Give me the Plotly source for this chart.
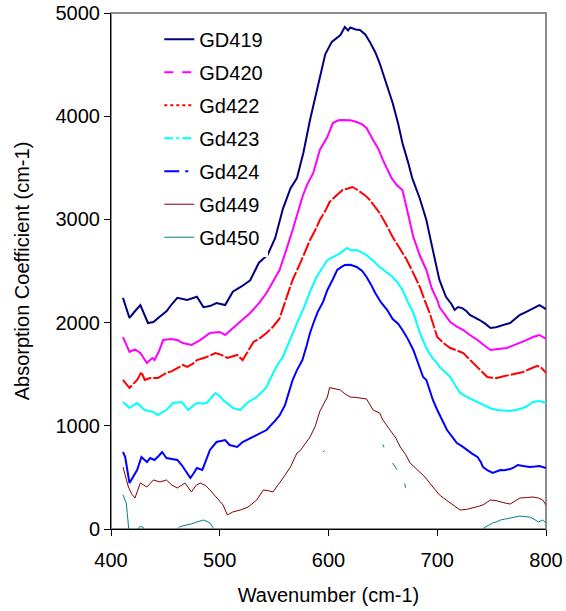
import plotly.graph_objects as go

# wavenumber / absorption readings per sample
gd419_x = [411, 417, 422, 427, 434, 439, 445, 451, 456, 461, 470, 479, 485, 491, 497, 505, 512, 520, 528,
           536, 544, 551, 558, 565, 571, 577, 583, 588, 592, 597, 603, 608, 611, 615, 618, 620, 625, 629,
           634, 638, 643, 647, 653, 659, 664, 668, 673, 677, 684, 690, 696, 702, 708, 713, 716, 719, 723,
           727, 730, 735, 739, 744, 749, 754, 758, 763, 767, 772, 776, 781, 785, 790, 794, 797, 800]
gd419_y = [2240, 2045, 2110, 2170, 1996, 2006, 2060, 2110, 2180, 2240, 2220, 2250, 2150, 2160, 2190, 2170,
           2300, 2350, 2410, 2580, 2655, 2820, 3100, 3300, 3400, 3650, 3963, 4200, 4380, 4600, 4720, 4760,
           4787, 4864, 4830, 4860, 4840, 4835, 4790, 4720, 4620, 4515, 4330, 4128, 3930, 3740, 3560, 3400,
           3200, 2994, 2700, 2413, 2250, 2180, 2122, 2150, 2140, 2110, 2074, 2050, 2025, 1990, 1948, 1955,
           1967, 1980, 1996, 2040, 2074, 2100, 2122, 2150, 2170, 2150, 2130]

gd420_x = [411, 417, 422, 427, 433, 438, 440, 444, 448, 455, 461, 466, 474, 482, 491, 500, 505, 512, 520,
           528, 537, 543, 549, 555, 561, 567, 576, 580, 586, 592, 599, 604, 609, 613, 620, 626, 631, 635,
           641, 646, 650, 658, 663, 668, 673, 678, 684, 690, 695, 700, 702, 707, 712, 718, 724, 730, 737,
           743, 749, 756, 764, 770, 776, 782, 788, 794, 800]
gd420_y = [1860, 1715, 1740, 1705, 1608, 1657, 1637, 1720, 1831, 1840, 1831, 1802, 1783, 1831, 1899, 1909,
           1880, 1948, 2020, 2093, 2200, 2287, 2400, 2510, 2700, 2897, 3217, 3330, 3450, 3673, 3800, 3934,
           3960, 3963, 3960, 3944, 3920, 3886, 3770, 3680, 3576, 3400, 3330, 3285, 3060, 2830, 2650, 2510,
           2330, 2219, 2151, 2080, 2006, 1960, 1928, 1880, 1831, 1780, 1735, 1745, 1754, 1780, 1802, 1830,
           1860, 1880, 1841]

gd422_x = [411, 417, 420, 424, 428, 431, 436, 443, 451, 456, 461, 466, 470, 475, 479, 484, 488, 496, 501,
           507, 512, 516, 521, 526, 531, 537, 543, 549, 555, 561, 567, 575, 583, 588, 592, 597, 601, 607,
           613, 618, 622, 626, 629, 634, 638, 643, 647, 653, 659, 666, 672, 678, 684, 689, 693, 697, 700,
           706, 712, 718, 724, 729, 733, 740, 746, 750, 755, 761, 767, 773, 779, 785, 792, 796, 800]
gd422_y = [1444, 1366, 1400, 1444, 1521, 1444, 1463, 1463, 1512, 1530, 1560, 1590, 1570, 1600, 1637, 1650,
           1667, 1705, 1690, 1657, 1670, 1686, 1637, 1720, 1812, 1850, 1899, 1960, 2040, 2230, 2413, 2600,
           2800, 2900, 2994, 3080, 3169, 3230, 3285, 3300, 3314, 3290, 3266, 3230, 3188, 3120, 3062, 2950,
           2830, 2710, 2607, 2480, 2345, 2200, 2093, 1960, 1860, 1800, 1754, 1730, 1705, 1650, 1608, 1540,
           1473, 1465, 1463, 1480, 1492, 1505, 1521, 1550, 1580, 1560, 1512]

gd423_x = [411, 417, 424, 431, 439, 443, 447, 451, 457, 465, 468, 471, 475, 479, 484, 488, 492, 496, 500,
           503, 508, 512, 516, 519, 525, 530, 534, 540, 543, 549, 553, 558, 562, 567, 572, 577, 583, 589,
           594, 599, 605, 611, 617, 621, 626, 631, 635, 641, 647, 653, 659, 664, 668, 673, 678, 684, 690,
           696, 700, 702, 707, 712, 716, 721, 727, 733, 740, 746, 750, 755, 761, 767, 773, 779, 784, 788,
           794, 800]
gd423_y = [1231, 1173, 1221, 1153, 1134, 1105, 1130, 1153, 1221, 1231, 1190, 1153, 1190, 1221, 1215, 1221,
           1270, 1318, 1290, 1250, 1210, 1173, 1160, 1153, 1221, 1250, 1279, 1340, 1376, 1512, 1590, 1667,
           1770, 1899, 2020, 2136, 2300, 2442, 2530, 2607, 2640, 2674, 2723, 2700, 2704, 2680, 2655, 2600,
           2539, 2490, 2442, 2380, 2316, 2200, 2093, 1900, 1750, 1650, 1608, 1570, 1520, 1473, 1400, 1318,
           1280, 1250, 1215, 1182, 1165, 1153, 1150, 1143, 1155, 1173, 1200, 1231, 1240, 1221]

gd424_x = [411, 413, 417, 420, 424, 428, 433, 436, 440, 444, 447, 451, 456, 461, 465, 469, 473, 476, 479,
           484, 488, 491, 497, 501, 505, 509, 516, 521, 526, 531, 537, 543, 551, 555, 560, 563, 567, 571,
           576, 580, 583, 587, 590, 595, 599, 604, 608, 612, 615, 620, 626, 631, 635, 639, 643, 648, 654,
           659, 664, 668, 673, 678, 683, 687, 690, 696, 700, 704, 709, 714, 718, 723, 727, 732, 737, 740,
           742, 746, 751, 755, 758, 762, 767, 771, 774, 779, 785, 790, 794, 800]
gd424_y = [746, 700, 446, 500, 572, 698, 649, 688, 669, 710, 746, 688, 680, 669, 620, 560, 494, 540, 591,
           572, 680, 766, 843, 850, 862, 814, 795, 843, 870, 891, 925, 959, 1050, 1100, 1200, 1300, 1444,
           1540, 1637, 1780, 1899, 2020, 2102, 2200, 2316, 2420, 2510, 2540, 2558, 2560, 2539, 2500, 2442,
           2370, 2287, 2200, 2122, 2035, 1990, 1928, 1840, 1735, 1600, 1473, 1444, 1250, 1153, 1060, 959,
           890, 833, 800, 766, 730, 698, 650, 601, 570, 543, 560, 572, 570, 581, 600, 620, 610, 601, 605,
           610, 591]

gd449_x = [411, 416, 419, 422, 427, 433, 439, 445, 451, 456, 461, 468, 474, 478, 482, 487, 491, 497, 503,
           507, 512, 519, 526, 534, 540, 545, 549, 553, 557, 565, 571, 574, 578, 583, 588, 592, 596, 599,
           601, 606, 611, 615, 620, 625, 629, 635, 641, 647, 650, 654, 657, 662, 666, 671, 675, 680, 684,
           689, 693, 697, 702, 707, 712, 716, 721, 727, 733, 738, 742, 746, 749, 754, 758, 763, 767, 772,
           776, 782, 788, 793, 797, 800]
gd449_y = [601, 407, 340, 300, 446, 407, 475, 456, 475, 426, 397, 446, 359, 420, 446, 420, 378, 300, 233,
           136, 165, 184, 213, 281, 378, 370, 359, 420, 475, 601, 736, 760, 820, 891, 1000, 1140, 1220,
           1279, 1370, 1355, 1347, 1310, 1279, 1275, 1270, 1260, 1153, 1124, 1056, 1000, 959, 880, 795,
           720, 640, 590, 543, 500, 446, 390, 330, 290, 252, 215, 184, 190, 204, 220, 233, 260, 281, 275,
           262, 250, 242, 270, 300, 305, 310, 300, 281, 233]

# Gd450 is mostly below the axis; None marks breaks in the trace
gd450_x = [411, 413, 414, 415, 416, 418, 422, 425, 427, 429, 431, 435, 445, 455, 460, 463, 466, 470, 474,
           479, 482, 485, 488, 491, 494, 497, 510, 530, None, 595, 596, None, 650, 651, None, 659, 661, 663,
           None, 670, 671, None, 735, 742, 744, 747, 751, 755, 758, 762, 767, 771, 776, 780, 785, 789, 793,
           797, 800]
gd450_y = [330, 280, 252, 150, 19, -200, -150, 5, 25, 20, -10, -100, -150, -80, -10, 20, 30, 39, 50, 68,
           75, 87, 75, 58, 10, -50, -100, -150, None, 746, 760, None, 820, 790, None, 640, 600, 575, None,
           440, 400, None, -100, -10, 20, 35, 58, 70, 87, 95, 107, 118, 126, 120, 116, 95, 68, 87, 58]

series = [
    ("GD419", gd419_x, gd419_y, "#000080", 2, "solid", "solid"),
    ("GD420", gd420_x, gd420_y, "#FF00FF", 2, "solid", "dash"),
    ("Gd422", gd422_x, gd422_y, "#FF0000", 2, "14px,2px", "dot"),
    ("Gd423", gd423_x, gd423_y, "#00FFFF", 2, "solid", "dashdot"),
    ("Gd424", gd424_x, gd424_y, "#0000FF", 2, "solid", "longdashdot"),
    ("Gd449", gd449_x, gd449_y, "#800000", 1, "solid", "solid"),
    ("Gd450", gd450_x, gd450_y, "#008080", 1, "solid", "solid"),
]

font = "Liberation Sans, Arial, sans-serif"
fig = go.Figure()

for name, xs, ys, color, width, dash, legdash in series:
    fig.add_trace(go.Scatter(x=xs, y=ys, mode="lines", name=name, showlegend=False,
                             line=dict(color=color, width=width, dash=dash),
                             connectgaps=False, hoverinfo="x+y+name"))

# legend entries carry the line styles
for name, xs, ys, color, width, dash, legdash in series:
    fig.add_trace(go.Scatter(x=[None], y=[None], mode="lines", name=name, legendgroup=name,
                             line=dict(color=color, width=width, dash=legdash)))

fig.update_layout(
    width=566, height=611,
    margin=dict(l=111, r=20, t=13, b=82),
    paper_bgcolor="white", plot_bgcolor="white",
    font=dict(family=font, size=20, color="black"),
    legend=dict(x=0.111, y=0.987, xanchor="left", yanchor="top", bgcolor="white",
                font=dict(size=20), tracegroupgap=4, traceorder="grouped"),
    shapes=[dict(type="rect", xref="paper", yref="paper", x0=0, x1=1, y0=0, y1=1,
                 line=dict(color="#8c8c8c", width=2), layer="below")],
)
fig.update_xaxes(range=[400, 800], tickvals=[400, 500, 600, 700, 800], showgrid=False, zeroline=False,
                 showline=True, linecolor="black", linewidth=1, ticks="outside", ticklen=6,
                 tickcolor="black", ticklabelstandoff=7, automargin=False,
                 title=dict(text="Wavenumber (cm-1)", font=dict(size=20), standoff=17))
fig.update_yaxes(range=[0, 5000], tickvals=[0, 1000, 2000, 3000, 4000, 5000], showgrid=False,
                 zeroline=False, showline=True, linecolor="black", linewidth=1, ticks="outside",
                 ticklen=6, tickcolor="black", automargin=False,
                 title=dict(text="Absorption Coefficient (cm-1)", font=dict(size=20), standoff=20))

fig.write_html("out.html", config={"displayModeBar": False},
               post_script="document.body.style.margin='0';")
